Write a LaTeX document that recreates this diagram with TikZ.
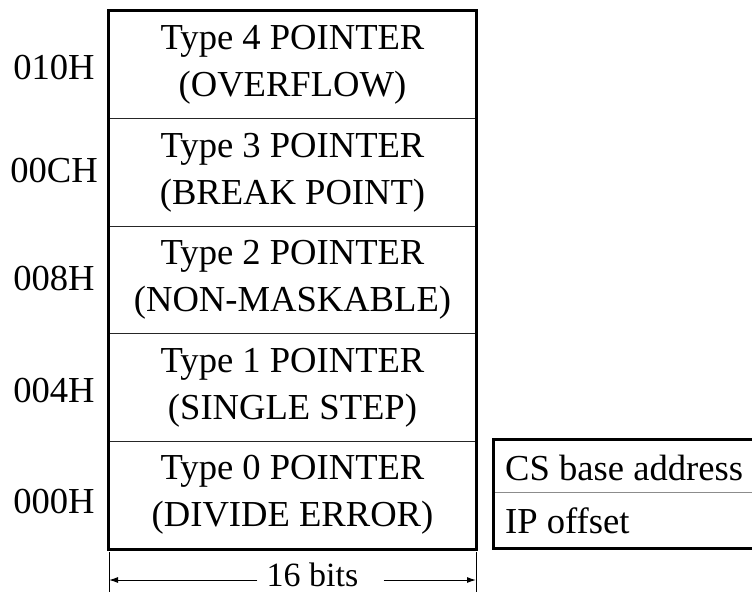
\documentclass[tikz,border=0pt]{standalone}
\usepackage{fontspec}
\setmainfont{Liberation Serif}
\usetikzlibrary{arrows.meta}
\begin{document}
\begin{tikzpicture}[x=1pt,y=-1pt,
  txt/.style={font=\fontsize{36.6}{47}\selectfont, inner sep=0pt},
  slot/.style={txt, draw=black!85, line width=1.2pt, align=center,
    minimum width=367pt, minimum height=107.6pt},
  addr/.style={txt, anchor=base},
  frame/.style={line width=3pt},
  field/.style={txt, anchor=base west},
  dimline/.style={line width=1pt, -{Latex[length=9pt,width=6pt]}},
  tick/.style={line width=1pt}]
\useasboundingbox (0,0) rectangle (752,594);
\clip (0,0) rectangle (752,594);
\fill[white] (0,0) rectangle (752,594);

% interrupt vector table, one 4-byte slot per row
\node[slot] (t4) at (292.5, 64.8)  {Type 4 POINTER\\(OVERFLOW)};
\node[slot] (t3) at (292.5, 172.4) {Type 3 POINTER\\(BREAK POINT)};
\node[slot] (t2) at (292.5, 280.0) {Type 2 POINTER\\(NON-MASKABLE)};
\node[slot] (t1) at (292.5, 387.6) {Type 1 POINTER\\(SINGLE STEP)};
\node[slot] (t0) at (292.5, 495.2) {Type 0 POINTER\\(DIVIDE ERROR)};
\draw[frame] (t4.north west) rectangle (t0.south east);

% addresses
\node[addr] (a4) at (54, 80)  {010H};
\node[addr] (a3) at (54, 182) {00CH};
\node[addr] (a2) at (54, 290) {008H};
\node[addr] (a1) at (54, 402) {004H};
\node[addr] (a0) at (54, 513) {000H};

% layout of one vector
\coordinate (vtl) at (493, 439);
\coordinate (vbr) at (780, 548);
\coordinate (vml) at (493, 492);
\coordinate (vmr) at (780, 492);
\draw[line width=1pt, black!45] (vml) -- (vmr);
\draw[frame] (vtl) rectangle (vbr);
\node[field] (cs) at (505, 480) {CS base address};
\node[field] (ip) at (505, 533) {IP offset};

% width dimension
\coordinate (tlt) at (109, 552);
\coordinate (tlb) at (109, 592);
\coordinate (trt) at (476, 552);
\coordinate (trb) at (476, 592);
\draw[tick] (tlt) -- (tlb);
\draw[tick] (trt) -- (trb);
\coordinate (dl) at (109, 580);
\coordinate (dr) at (476, 580);
\node[txt, font=\fontsize{34}{38}\selectfont, anchor=base] (w) at (312.5, 586) {16 bits};
\draw[dimline] ([xshift=-9pt]w.west |- dl) -- (dl);
\draw[dimline] ([xshift=25pt]w.east |- dr) -- (dr);
\end{tikzpicture}
\end{document}
